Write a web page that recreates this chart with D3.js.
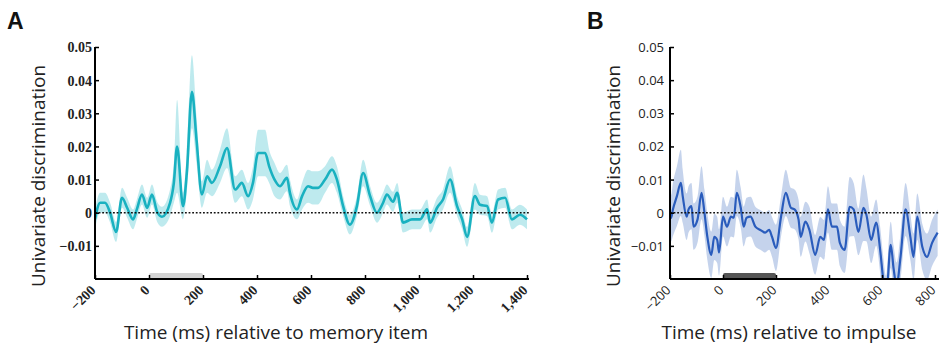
<!DOCTYPE html>
<html>
<head>
<meta charset="utf-8">
<script src="https://cdn.jsdelivr.net/npm/d3@7"></script>
<style>
  body { margin: 0; background: #fff; }
  svg { display: block; }
</style>
</head>
<body>
<svg id="chart" width="939" height="346"></svg>
<script>
// panel A: memory item
const timeA = [-200,-181,-163,-144,-122,-100,-81,-59,-45,-26,-7,11,30,48,78,92,104,126,140,159,176,196,215,233,263,289,319,344,367,385,404,430,445,465,485,511,522,548,567,589,607,626,652,678,696,719,744,770,793,819,844,867,881,904,919,941,974,1004,1030,1041,1067,1089,1115,1141,1160,1178,1207,1226,1252,1270,1293,1319,1344,1374,1400];
const valA  = [-0.002,0.003,0.003,0,-0.0058,0.0045,0.0015,-0.002,0.001,0.0055,0.0015,0.0055,0.0003,-0.0012,0.003,0.009,0.02,0.002,0.012,0.0365,0.022,0.0055,0.011,0.009,0.014,0.0195,0.007,0.009,0.005,0.009,0.018,0.018,0.014,0.01,0.008,0.0105,0.006,0.001,0.005,0.008,0.0075,0.0075,0.01,0.013,0.01,0.002,-0.0036,0.002,0.012,0.005,0,0.003,0.0055,0.0033,0.006,-0.003,-0.002,-0.002,0.001,-0.003,0.0015,0.004,0.01,0.002,-0.002,-0.0073,0.005,0.0024,0.002,-0.003,0.004,0.0045,-0.002,-0.0006,-0.002];
const semA  = [0.003,0.003,0.003,0.003,0.003,0.003,0.003,0.003,0.003,0.003,0.003,0.003,0.003,0.003,0.004,0.006,0.014,0.004,0.006,0.011,0.007,0.004,0.005,0.004,0.005,0.006,0.004,0.004,0.004,0.005,0.007,0.007,0.005,0.005,0.004,0.004,0.004,0.003,0.004,0.005,0.005,0.005,0.004,0.004,0.004,0.003,0.003,0.003,0.004,0.003,0.003,0.003,0.003,0.003,0.003,0.003,0.003,0.003,0.003,0.003,0.003,0.003,0.004,0.003,0.003,0.003,0.004,0.003,0.003,0.003,0.003,0.003,0.003,0.003,0.003];

// panel B: impulse
const timeB = [-200,-196,-189,-174,-159,-152,-137,-130,-119,-111,-96,-81,-70,-59,-44,-33,-22,-15,0,15,30,41,52,67,78,89,104,122,141,159,174,185,200,219,237,256,270,285,293,311,326,348,367,381,396,411,430,441,459,478,493,511,530,541,559,578,593,604,615,633,644,655,670,689,707,719,733,752,770,789,810];
const valB  = [-0.001,-0.0016,0.001,0.005,0.009,0.005,-0.0012,0.001,0.002,-0.0042,-0.002,0.006,0,-0.0073,-0.0127,-0.0073,-0.0082,-0.012,-0.0012,-0.0042,-0.0012,-0.0015,0.006,0.0015,-0.0042,-0.0015,-0.0012,-0.0042,-0.0052,-0.006,-0.0052,-0.0073,-0.0106,-0.0012,0.006,0.0015,0.001,-0.002,-0.0073,-0.0027,-0.0052,-0.0127,-0.0073,-0.0082,0.001,-0.0042,-0.0042,-0.0091,-0.0112,0.0018,0.001,-0.0058,0.0015,-0.0006,-0.0082,-0.003,-0.0112,-0.0197,-0.026,-0.0097,-0.017,-0.022,-0.0133,0.001,-0.0073,-0.0133,-0.0012,-0.0103,-0.0133,-0.0091,-0.006];
const semB  = [0.007,0.007,0.008,0.009,0.01,0.008,0.007,0.007,0.007,0.007,0.007,0.008,0.007,0.007,0.007,0.007,0.007,0.007,0.006,0.006,0.006,0.006,0.007,0.006,0.006,0.006,0.006,0.006,0.006,0.006,0.006,0.006,0.007,0.006,0.007,0.006,0.006,0.006,0.006,0.006,0.007,0.006,0.006,0.006,0.007,0.007,0.007,0.007,0.007,0.009,0.008,0.007,0.01,0.008,0.007,0.007,0.007,0.007,0.007,0.007,0.007,0.007,0.007,0.008,0.007,0.007,0.007,0.007,0.007,0.007,0.007];

const yTicks = [-0.01, 0, 0.01, 0.02, 0.03, 0.04, 0.05];
const xTicksA = [-200, 0, 200, 400, 600, 800, 1000, 1200, 1400];
const xTicksB = [-200, 0, 200, 400, 600, 800];
const stimA = [0, 200];
const stimB = [0, 200];

const svg = d3.select("#chart");

function drawPanel(o) {
    const x = d3.scaleLinear().domain(o.xDomain).range(o.xRange);
    const y = d3.scaleLinear().domain([-0.02, 0.05]).range([279, 47]);
    const g = svg.append("g");
    const pts = o.t.map((t, i) => ({ t: t, v: o.v[i], s: o.s[i] }));
    const xEnd = o.xEnd;

    g.append("clipPath").attr("id", o.id + "-clip")
        .append("rect")
        .attr("x", o.xRange[0]).attr("y", 30)
        .attr("width", xEnd - o.xRange[0]).attr("height", 279 - 30);

    const plot = g.append("g").attr("clip-path", `url(#${o.id}-clip)`);

    // shaded error band
    plot.append("path")
        .datum(pts)
        .attr("fill", o.band)
        .attr("d", d3.area()
            .curve(d3.curveMonotoneX)
            .x(d => x(d.t))
            .y0(d => y(d.v - d.s))
            .y1(d => y(d.v + d.s)));

    // zero line
    g.append("line")
        .attr("x1", o.xRange[0]).attr("x2", xEnd)
        .attr("y1", y(0)).attr("y2", y(0))
        .attr("stroke", "#111").attr("stroke-width", 1.6)
        .attr("stroke-dasharray", "1.8,1.8");

    plot.append("path")
        .datum(pts)
        .attr("fill", "none")
        .attr("stroke", o.color)
        .attr("stroke-width", o.lineWidth)
        .attr("stroke-linejoin", "round")
        .attr("d", d3.line().curve(d3.curveMonotoneX).x(d => x(d.t)).y(d => y(d.v)));

    // stimulus bar
    g.append("rect")
        .attr("x", x(o.stim[0])).attr("y", 273)
        .attr("width", x(o.stim[1]) - x(o.stim[0])).attr("height", 6)
        .attr("rx", 2)
        .attr("fill", o.stimColor);

    // axes
    const yAxis = g.append("g")
        .attr("transform", `translate(${o.xRange[0]},0)`)
        .call(d3.axisRight(y).tickValues(o.yTicks).tickSize(4).tickFormat(d => d === 0 ? "0" : d3.format(".2f")(d)));
    yAxis.select(".domain").attr("d", `M0,${y(0.05)}V279`).attr("stroke", "#000").attr("stroke-width", 2);
    yAxis.selectAll(".tick line").attr("stroke", "#000").attr("stroke-width", 1.5);
    yAxis.selectAll(".tick text")
        .attr("x", -o.yLabelGap).attr("dy", "0.35em")
        .attr("text-anchor", "end")
        .style("font-family", o.tickFont).style("font-size", o.tickSize).style("font-weight", o.tickWeight)
        .attr("fill", "#222");

    const xAxis = g.append("g")
        .attr("transform", "translate(0,279)")
        .call(d3.axisTop(x).tickValues(o.xTicks).tickSize(4).tickFormat(d3.format(",")));
    xAxis.select(".domain").attr("d", `M${o.xRange[0]},0H${xEnd}`).attr("stroke", "#000").attr("stroke-width", 2);
    xAxis.selectAll(".tick line").attr("stroke", "#000").attr("stroke-width", 1.5);
    xAxis.selectAll(".tick text")
        .attr("x", 0).attr("y", 0).attr("dy", 0)
        .attr("text-anchor", "end")
        .attr("transform", "translate(1,12) rotate(-45)")
        .style("font-family", o.tickFont).style("font-size", o.tickSize).style("font-weight", o.tickWeight)
        .attr("fill", "#222");

    // titles
    g.append("text")
        .attr("transform", `translate(${o.yTitleX},176) rotate(-90)`)
        .attr("text-anchor", "middle")
        .style("font-family", "'Open Sans', sans-serif").style("font-size", "19px")
        .attr("fill", "#222")
        .text("Univariate discrimination");

    g.append("text")
        .attr("x", o.xTitleX).attr("y", 339)
        .attr("text-anchor", "middle")
        .style("font-family", "'Open Sans', sans-serif").style("font-size", "19px")
        .attr("fill", "#222")
        .text(o.xTitle);

    g.append("text")
        .attr("x", o.letterX).attr("y", 29)
        .style("font-family", "'Liberation Sans', Arial, sans-serif").style("font-size", "23px").style("font-weight", "bold")
        .attr("fill", "#111")
        .text(o.letter);
}

drawPanel({
    id: "a", letter: "A", letterX: 7,
    t: timeA, v: valA, s: semA,
    xDomain: [-200, 1400], xRange: [95, 527], xEnd: 529,
    xTicks: xTicksA, yTicks: yTicks,
    color: "#19b1c0", band: "rgba(40,185,200,0.3)", lineWidth: 2.6,
    stim: stimA, stimColor: "#d3d3d3",
    tickFont: "'Liberation Serif', 'Times New Roman', serif", tickSize: "14px", tickWeight: "bold", yLabelGap: 3,
    yTitleX: 45, xTitleX: 276, xTitle: "Time (ms) relative to memory item"
});

drawPanel({
    id: "b", letter: "B", letterX: 587,
    t: timeB, v: valB, s: semB,
    xDomain: [-200, 800], xRange: [670, 935], xEnd: 939,
    xTicks: xTicksB, yTicks: yTicks,
    color: "#2a5cbc", band: "rgba(90,130,200,0.35)", lineWidth: 2.2,
    stim: stimB, stimColor: "#555",
    tickFont: "'Open Sans', sans-serif", tickSize: "13px", tickWeight: "normal", yLabelGap: 6,
    yTitleX: 620, xTitleX: 789, xTitle: "Time (ms) relative to impulse"
});
</script>
</body>
</html>
